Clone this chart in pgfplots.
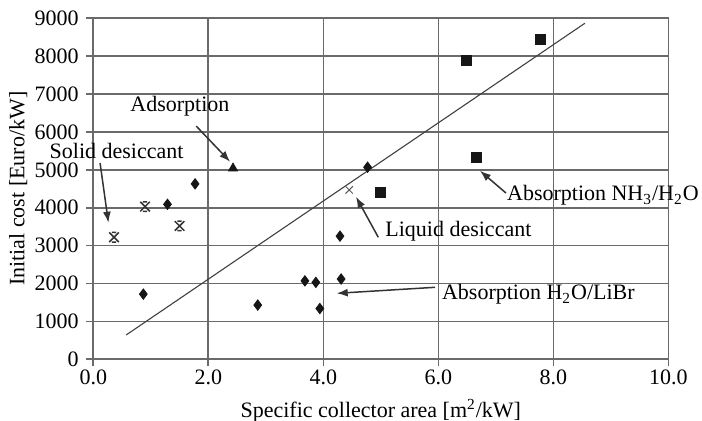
\documentclass[border=0pt]{standalone}
\usepackage{fontspec}
\setmainfont{Liberation Serif}
\usepackage{pgfplots}
\pgfplotsset{compat=1.18}
\usetikzlibrary{arrows.meta}

\definecolor{gridgray}{HTML}{6A6A6A}
\definecolor{markblk}{HTML}{161616}

% star marker: a cross capped by short bars at top and bottom
\pgfdeclareplotmark{capx}{%
  \pgfpathmoveto{\pgfqpoint{-\pgfplotmarksize}{-\pgfplotmarksize}}%
  \pgfpathlineto{\pgfqpoint{\pgfplotmarksize}{\pgfplotmarksize}}%
  \pgfpathmoveto{\pgfqpoint{-\pgfplotmarksize}{\pgfplotmarksize}}%
  \pgfpathlineto{\pgfqpoint{\pgfplotmarksize}{-\pgfplotmarksize}}%
  \pgfpathmoveto{\pgfqpoint{-0.45\pgfplotmarksize}{\pgfplotmarksize}}%
  \pgfpathlineto{\pgfqpoint{0.45\pgfplotmarksize}{\pgfplotmarksize}}%
  \pgfpathmoveto{\pgfqpoint{-0.45\pgfplotmarksize}{-\pgfplotmarksize}}%
  \pgfpathlineto{\pgfqpoint{0.45\pgfplotmarksize}{-\pgfplotmarksize}}%
  \pgfusepathqstroke}

\begin{document}
\fontsize{11pt}{13pt}\selectfont
\begin{tikzpicture}
\begin{axis}[
  at={(0,0)}, anchor=south west,
  scale only axis, width=287.5pt, height=170.5pt,
  xmin=0, xmax=10, ymin=0, ymax=9000,
  xtick={0,2,...,10}, ytick={0,1000,...,9000},
  grid=major,
  grid style={gridgray, line width=0.8pt},
  axis line style={gridgray, line width=0.8pt},
  tick style={gridgray, line width=0.8pt},
  tick align=outside, tick pos=left, major tick length=3.5pt,
  /pgf/number format/assume math mode=true,
  xticklabel style={yshift=2pt, /pgf/number format/.cd, fixed, fixed zerofill, precision=1},
  yticklabel style={/pgf/number format/1000 sep={}},
  ticklabel style={font=\fontsize{11pt}{13pt}\selectfont},
  xlabel={Specific collector area [m\textsuperscript{2}/kW]},
  ylabel={Initial cost [Euro/kW]},
  xlabel style={at={(axis description cs:0.5,0)}, anchor=center, yshift=-25.8pt},
  ylabel style={at={(axis description cs:0,0.5)}, anchor=center, yshift=37.6pt},
  label style={font=\fontsize{11pt}{13pt}\selectfont},
  clip=false,
]
% linear trend across all systems
\addplot[no marks, black!75, line width=0.55pt] coordinates {(0.57,640) (8.55,8870)};

% absorption H2O/LiBr
\addplot[only marks, mark=diamond*, mark size=2.6pt, markblk] coordinates {
  (0.87,1720) (1.29,4090) (1.77,4630) (2.86,1430) (3.68,2070)
  (3.87,2030) (3.94,1340) (4.29,3250) (4.31,2120) (4.77,5070)
};
% adsorption
\addplot[only marks, mark=triangle*, mark size=2.6pt, markblk] coordinates {(2.43,5040)};
% solid desiccant
\addplot[only marks, mark=capx, mark size=2.4pt, line width=0.75pt, black!80] coordinates {
  (0.36,3220) (0.90,4030) (1.50,3520)
};
% liquid desiccant
\addplot[only marks, mark=x, mark size=2.6pt, line width=0.5pt, black!65] coordinates {(4.45,4470)};
% absorption NH3/H2O
\addplot[only marks, mark=square*, mark size=2.5pt, markblk] coordinates {
  (5.00,4400) (6.48,7880) (6.67,5320) (7.78,8440)
};

% annotations
\tikzset{ann/.style={-{Latex[length=5.5pt,width=4pt]}, line width=0.75pt, black!80}}
\node[anchor=base west, inner sep=0pt] at (axis cs:0.638,6551) {Adsorption};
\draw[ann] (axis cs:1.79,6155) -- (axis cs:2.38,5214);
\node[anchor=base west, inner sep=0pt] at (axis cs:-0.765,5310) {Solid desiccant};
\draw[ann] (axis cs:0.118,5180) -- (axis cs:0.263,3604);
\node[anchor=base west, inner sep=0pt] at (axis cs:5.073,3235) {Liquid desiccant};
\draw[ann] (axis cs:4.957,3219) -- (axis cs:4.569,4290);
\node[anchor=base west, inner sep=0pt] at (axis cs:6.059,1565) {Absorption H\textsubscript{2}O/LiBr};
\draw[ann] (axis cs:5.943,1900) -- (axis cs:4.233,1741);
\node[anchor=base west, inner sep=0pt] at (axis cs:7.19,4185) {Absorption NH\textsubscript{3}/H\textsubscript{2}O};
\draw[ann] (axis cs:7.177,4388) -- (axis cs:6.725,4976);
\end{axis}
\pgfresetboundingbox
\path (-46.65pt,-30.85pt) rectangle (304.35pt,179.65pt);
\end{tikzpicture}
\end{document}
